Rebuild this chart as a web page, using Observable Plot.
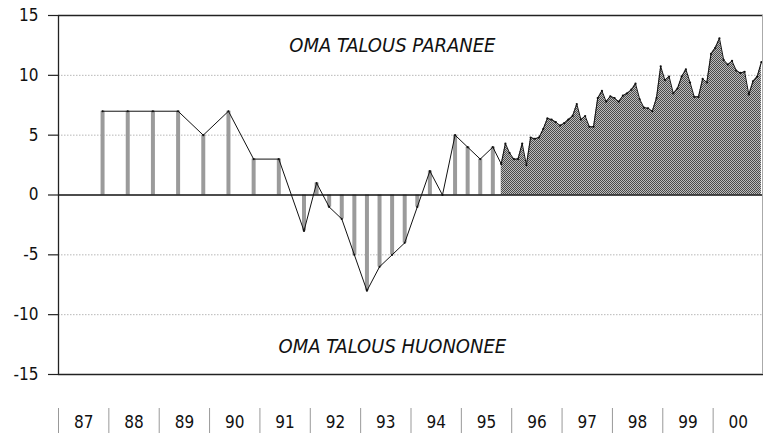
<!DOCTYPE html>
<html><head><meta charset="utf-8">
<script src="https://cdn.jsdelivr.net/npm/d3@7"></script>
<script src="https://cdn.jsdelivr.net/npm/@observablehq/plot@0.6"></script>
<style>
body{margin:0;background:#fff;}
</style></head><body><div id="chart"></div>
<script>
// Survey points (half-yearly, then quarterly)
const surveyDates = ["1987-11","1988-05","1988-11","1989-05","1989-11","1990-05","1990-11","1991-05","1991-11",
  "1992-02","1992-05","1992-08","1992-11","1993-02","1993-05","1993-08","1993-11",
  "1994-02","1994-05","1994-08","1994-11","1995-02","1995-05","1995-08"];
const surveyValues = [7,7,7,7,5,7,3,3,-3, 1,-1,-2,-5,-8,-6,-5,-4, -1,2,0,5,4,3,4];
// Monthly points from Oct 1995 to Dec 2000
const monthlyStart = "1995-10";
const monthlyValues = [2.6,4.3,3.5,3.0,3.0,4.3,2.5,4.8,4.7,4.8,5.5,6.4,6.3,6.1,5.8,6.0,6.3,6.6,7.6,6.3,6.6,5.7,5.7,8.1,8.7,7.8,8.25,8.1,7.8,8.3,8.5,8.8,9.3,8.0,7.3,7.25,7.0,8.1,10.75,9.6,9.9,8.5,8.9,9.9,10.5,9.4,8.2,8.2,9.7,9.4,11.8,12.3,13.1,11.3,10.9,11.2,10.4,10.2,10.3,8.4,9.5,9.9,11.1];
const yTicks = [-15,-10,-5,0,5,10,15];
const gridTicks = [-10,-5,5,10];
const yearStarts = [1987,1988,1989,1990,1991,1992,1993,1994,1995,1996,1997,1998,1999,2000];
const yearLabels = ["87","88","89","90","91","92","93","94","95","96","97","98","99","00"];
const topLabel = "OMA TALOUS PARANEE";
const bottomLabel = "OMA TALOUS HUONONEE";

function toYear(s){const [y,m]=s.split("-").map(Number);return y+(m-0.5)/12;}
const survey = surveyDates.map((d,i)=>({t: toYear(d), v: surveyValues[i]}));
const [sy, sm] = monthlyStart.split("-").map(Number);
const monthly = monthlyValues.map((v,i)=>{const m0 = sm-1+i; return {t: sy + Math.floor(m0/12) + ((m0%12)+0.5)/12, v};});
const all = survey.concat(monthly);

const font = "'DejaVu Sans Condensed','Liberation Sans Narrow',Roboto,sans-serif";
const chart = Plot.plot({
  width: 763, height: 433,
  marginLeft: 58, marginRight: 0, marginTop: 15, marginBottom: 59,
  style: {fontFamily: font, background: "#fff", color: "#111", overflow: "visible"},
  x: {domain: [1987, 2001], label: null},
  y: {domain: [-15, 15], label: null},
  marks: [
    Plot.gridY(gridTicks, {stroke: "#999", strokeOpacity: 1, strokeDasharray: "1.5,1.5", strokeWidth: 0.7}),
    Plot.areaY(monthly, {x: "t", y: "v", fill: "url(#htDark)"}),
    Plot.ruleX(survey, {x: "t", y1: 0, y2: "v", stroke: "url(#htBar)", strokeWidth: 4}),
    Plot.ruleY([0], {stroke: "#111", strokeWidth: 1.3}),
    Plot.line(all, {x: "t", y: "v", stroke: "#111", strokeWidth: 1}),
    Plot.dot(all, {x: "t", y: "v", r: 1.1, fill: "#111"}),
    Plot.ruleY([-15, 15], {stroke: "#222", strokeWidth: 1.3}),
    Plot.ruleX([1987], {stroke: "#222", strokeWidth: 1.3}),
    Plot.ruleX([2001], {stroke: "#aaa", strokeWidth: 1, dx: -1}),
    Plot.axisY(yTicks, {tickSize: 10, tickPadding: 10, tickFormat: d => String(d), fontSize: 17, fontWeight: 500, label: null, stroke: "#222", strokeWidth: 1.2}),
    Plot.axisX(yearStarts, {anchor: "bottom", tickSize: 26, dy: 34, tickFormat: () => "", label: null, stroke: "#999"}),
    Plot.axisX(yearStarts.map(y => y + 0.5), {anchor: "bottom", tickSize: 0, tickPadding: 41, tickFormat: d => yearLabels[Math.floor(d) - 1987], fontSize: 17, fontWeight: 500, label: null}),
    Plot.text([topLabel], {x: 1993.63, y: 12.45, text: d => d, fontSize: 20, fontStyle: "italic", fill: "#111"}),
    Plot.text([bottomLabel], {x: 1993.63, y: -12.7, text: d => d, fontSize: 20, fontStyle: "italic", fill: "#111"})
  ]
});
const defs = document.createElementNS("http://www.w3.org/2000/svg", "defs");
defs.innerHTML = `
<pattern id="htDark" width="2" height="2" patternUnits="userSpaceOnUse">
  <rect width="2" height="2" fill="#bdbdbd"/><rect width="1" height="1" fill="#4a4a4a"/><rect x="1" y="1" width="1" height="1" fill="#4a4a4a"/>
</pattern>
<pattern id="htBar" width="2" height="2" patternUnits="userSpaceOnUse">
  <rect width="2" height="2" fill="#d0d0d0"/><rect width="1" height="1" fill="#666"/><rect x="1" y="1" width="1" height="1" fill="#666"/>
</pattern>`;
chart.insertBefore(defs, chart.firstChild);
document.getElementById("chart").appendChild(chart);
</script></body></html>
